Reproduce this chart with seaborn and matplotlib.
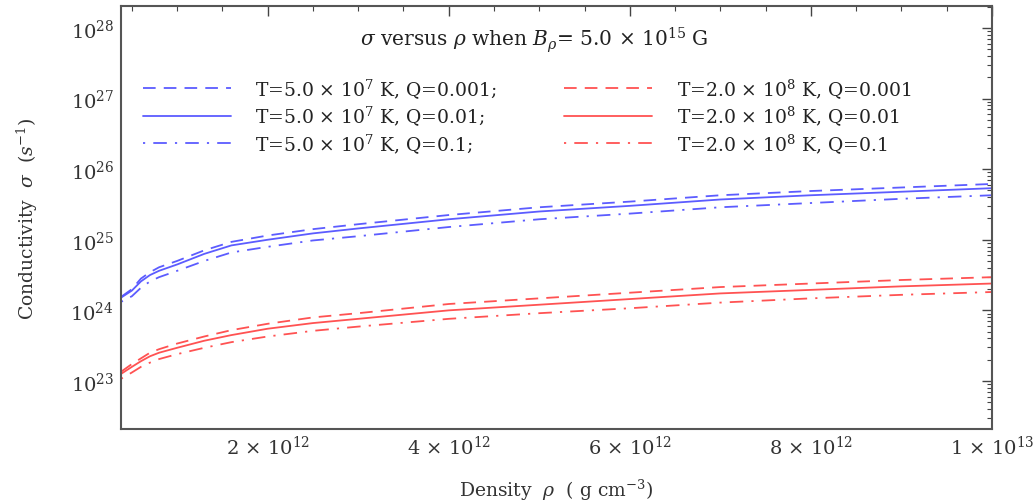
import numpy as np
import pandas as pd
import matplotlib
matplotlib.use("Agg")
import matplotlib.pyplot as plt
import seaborn as sns
from matplotlib.ticker import LogLocator, NullFormatter, MultipleLocator

# ---- data ----
rho = [0.38e12, 0.5e12, 0.6e12, 0.7e12, 0.8e12, 1.0e12, 1.3e12, 1.6e12, 2.0e12, 2.5e12,
       3.0e12, 4.0e12, 5.0e12, 6.0e12, 7.0e12, 8.0e12, 9.0e12, 1.0e13]

# log10 of conductivity (s^-1)
blue_q001 = [24.19, 24.30, 24.45, 24.54, 24.61, 24.70, 24.85, 24.97, 25.06, 25.15,
             25.22, 25.35, 25.46, 25.54, 25.63, 25.69, 25.74, 25.79]
blue_q01 = [24.18, 24.28, 24.41, 24.50, 24.56, 24.65, 24.80, 24.92, 25.00, 25.09,
            25.16, 25.29, 25.40, 25.48, 25.57, 25.63, 25.68, 25.73]
blue_q1 = [24.12, 24.20, 24.32, 24.41, 24.47, 24.56, 24.70, 24.82, 24.90, 24.99,
           25.05, 25.18, 25.29, 25.37, 25.46, 25.52, 25.58, 25.63]
red_q001 = [23.13, 23.24, 23.32, 23.40, 23.45, 23.53, 23.63, 23.72, 23.81, 23.90,
            23.96, 24.09, 24.17, 24.25, 24.33, 24.38, 24.43, 24.47]
red_q01 = [23.10, 23.20, 23.28, 23.35, 23.40, 23.47, 23.57, 23.65, 23.74, 23.82,
           23.88, 24.00, 24.08, 24.16, 24.24, 24.29, 24.34, 24.38]
red_q1 = [23.03, 23.12, 23.20, 23.26, 23.31, 23.38, 23.47, 23.55, 23.63, 23.71,
          23.77, 23.88, 23.96, 24.03, 24.11, 24.17, 24.22, 24.26]

labels = ["T=5.0 × 10$^{7}$ K, Q=0.001;", "T=5.0 × 10$^{7}$ K, Q=0.01;",
          "T=5.0 × 10$^{7}$ K, Q=0.1;", "T=2.0 × 10$^{8}$ K, Q=0.001",
          "T=2.0 × 10$^{8}$ K, Q=0.01", "T=2.0 × 10$^{8}$ K, Q=0.1"]

xticks = [2e12, 4e12, 6e12, 8e12, 1e13]
xticklabels = ["2 × 10$^{12}$", "4 × 10$^{12}$", "6 × 10$^{12}$", "8 × 10$^{12}$", "1 × 10$^{13}$"]
yticks = [1e23, 1e24, 1e25, 1e26, 1e27, 1e28]
yticklabels = ["10$^{23}$", "10$^{24}$", "10$^{25}$", "10$^{26}$", "10$^{27}$", "10$^{28}$"]

# ---- style ----
sns.set_style("white")
plt.rcParams['font.family'] = ['DejaVu Serif']
plt.rcParams['mathtext.fontset'] = 'dejavuserif'

BLUE = "#5c5cff"
RED = "#ff5252"
dash = (7, 4.5)
dashdot = (1.2, 4.5, 7.5, 4.5)

fig = plt.figure(figsize=(10.33, 5.02), dpi=100)
ax = fig.add_axes([121/1033, 1 - 430/502, (992 - 121)/1033, (430 - 7)/502])

series = [
    (blue_q001, BLUE, dash), (blue_q01, BLUE, None), (blue_q1, BLUE, dashdot),
    (red_q001, RED, dash), (red_q01, RED, None), (red_q1, RED, dashdot),
]
for (vals, col, ls), lab in zip(series, labels):
    df = pd.DataFrame({"rho": rho, "sigma": np.power(10.0, vals)})
    sns.lineplot(data=df, x="rho", y="sigma", ax=ax, color=col, linewidth=1.3,
                 label=lab, legend=False)
    if ls is not None:
        ax.lines[-1].set_dashes(ls)

ax.set_yscale("log")
ax.set_xlim(0.38e12, 1.0e13)
ax.set_ylim(10**22.32, 10**28.31)

ax.set_xticks(xticks)
ax.set_xticklabels(xticklabels)
ax.xaxis.set_minor_locator(MultipleLocator(0.5e12))
ax.set_yticks(yticks)
ax.set_yticklabels(yticklabels)
ax.yaxis.set_minor_locator(LogLocator(base=10, subs=np.arange(2, 10)))
ax.yaxis.set_minor_formatter(NullFormatter())

ax.tick_params(which="both", direction="in", top=True, right=True, colors="#444444",
               labelcolor="#333333", labelsize=14)
ax.tick_params(axis="x", which="major", pad=4)
ax.tick_params(axis="y", which="major", pad=5)
ax.tick_params(which="major", length=7, width=1.0)
ax.tick_params(which="minor", length=3.5, width=0.8)
for s in ax.spines.values():
    s.set_color("#555555")
    s.set_linewidth(1.5)

ax.set_xlabel("Density  $\\rho$  ( g cm$^{-3}$)", fontsize=13.5, color="#333333", labelpad=14)
ax.set_ylabel("Conductivity  $\\sigma$  ($s^{-1}$)", fontsize=13.5, color="#333333", labelpad=22)

ax.text(0.474, 0.922, "$\\sigma$ versus $\\rho$ when $B_\\rho$= 5.0 × 10$^{15}$ G",
        transform=ax.transAxes, ha="center", va="center", fontsize=14.5, color="#222222")

leg = ax.legend(ncol=2, loc="upper left", bbox_to_anchor=(0.025, 0.835), frameon=False,
                fontsize=13.5, handlelength=4.7, handletextpad=1.3, columnspacing=3.6,
                labelspacing=0.2, borderaxespad=0, borderpad=0)
for t in leg.get_texts():
    t.set_color("#222222")

fig.savefig("out.png", dpi=100)
